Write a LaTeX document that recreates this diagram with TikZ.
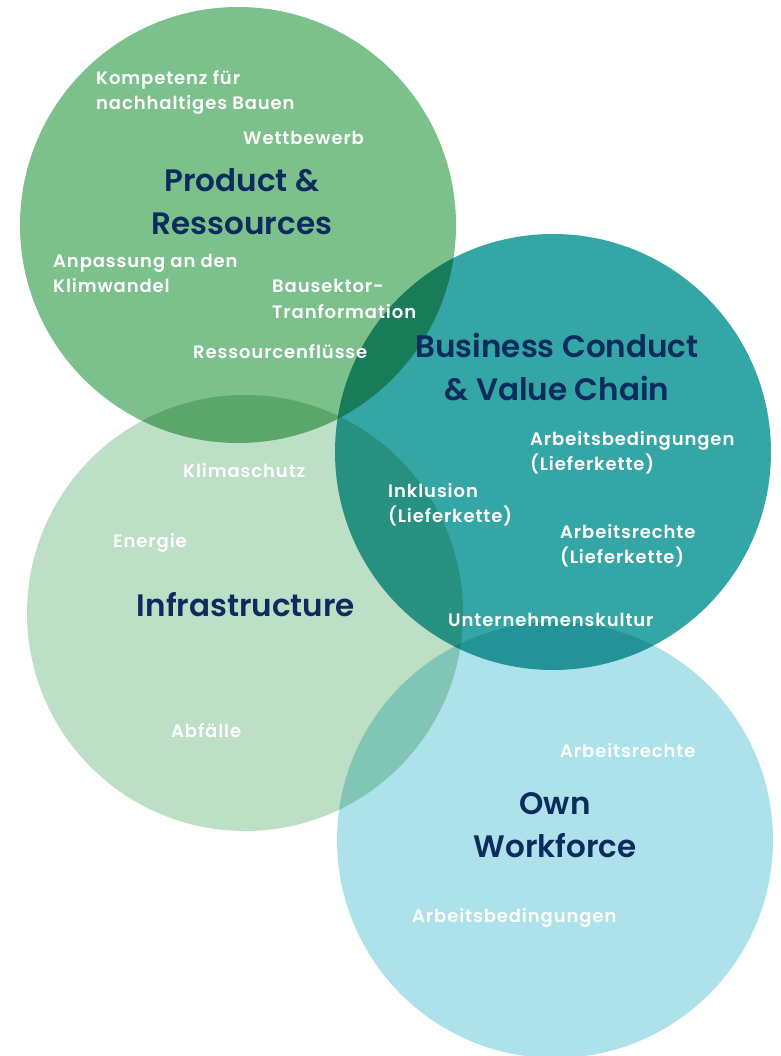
\documentclass[tikz,border=0pt]{standalone}
\usepackage{fontspec}
\setmainfont{Poppins}[BoldFont=Poppins SemiBold]
\usetikzlibrary{positioning}

\definecolor{navy}{HTML}{0B2C5C}
\definecolor{prodgreen}{HTML}{7CC08B}
\definecolor{bizteal}{HTML}{34A6A5}
\definecolor{infragreen}{HTML}{BDDFC6}
\definecolor{workblue}{HTML}{ADE2EA}

\tikzset{
  blob/.style={circle, minimum size=436pt, inner sep=0pt, outer sep=0pt},
  % base anchor sits on the last line
  topic/.style={text=white, align=left, anchor=base west, inner sep=0pt,
    font=\bfseries\fontsize{18}{25}\selectfont\addfontfeatures{LetterSpace=5}},
  title/.style={text=navy, align=center, anchor=base, inner sep=0pt,
    font=\bfseries\fontsize{31}{43}\selectfont}
}

\begin{document}
\begin{tikzpicture}[x=1pt, y=-1pt]
    \useasboundingbox (0,0) rectangle (780,1056);
    % the four fields, overlaps darken
    \begin{scope}[blend group=multiply]
      \node[blob, fill=prodgreen](prod) at (238,225){};
      \node[blob, fill=infragreen](infra) at (245,613){};
      \node[blob, fill=bizteal](biz) at (553,452){};
      \node[blob, fill=workblue](work) at (555,840){};
    \end{scope}
    % Product & Ressources
    \node[title](prodT) at (242,235){Product \&\\Ressources};
    \node[topic](kompetenz) at (96,110){Kompetenz für\\nachhaltiges Bauen};
    \node[topic](wettbewerb) at (243,145){Wettbewerb};
    \node[topic](anpassung) at (53,293){Anpassung an den\\Klimwandel};
    \node[topic](bausektor) at (272,318){Bausektor-\\Tranformation};
    \node[topic](ressourcen) at (193,358){Ressourcenflüsse};
    % Business Conduct & Value Chain
    \node[title](bizT) at (557,400){Business Conduct\\\& Value Chain};
    \node[topic](bedingLK) at (530,470){Arbeitsbedingungen\\(Lieferkette)};
    \node[topic](inklusion) at (388,522){Inklusion\\(Lieferkette)};
    \node[topic](rechteLK) at (560,563){Arbeitsrechte\\(Lieferkette)};
    \node[topic](kultur) at (448,626){Unternehmenskultur};
    % Infrastructure
    \node[title](infraT) at (246,616){Infrastructure};
    \node[topic](klima) at (183,477){Klimaschutz};
    \node[topic](energie) at (113,547){Energie};
    \node[topic](abfaelle) at (171,737){Abfälle};
    % Own Workforce
    \node[title](workT) at (555,857){Own\\Workforce};
    \node[topic](rechte) at (560,757){Arbeitsrechte};
    \node[topic](beding) at (412,922){Arbeitsbedingungen};
\end{tikzpicture}
\end{document}
